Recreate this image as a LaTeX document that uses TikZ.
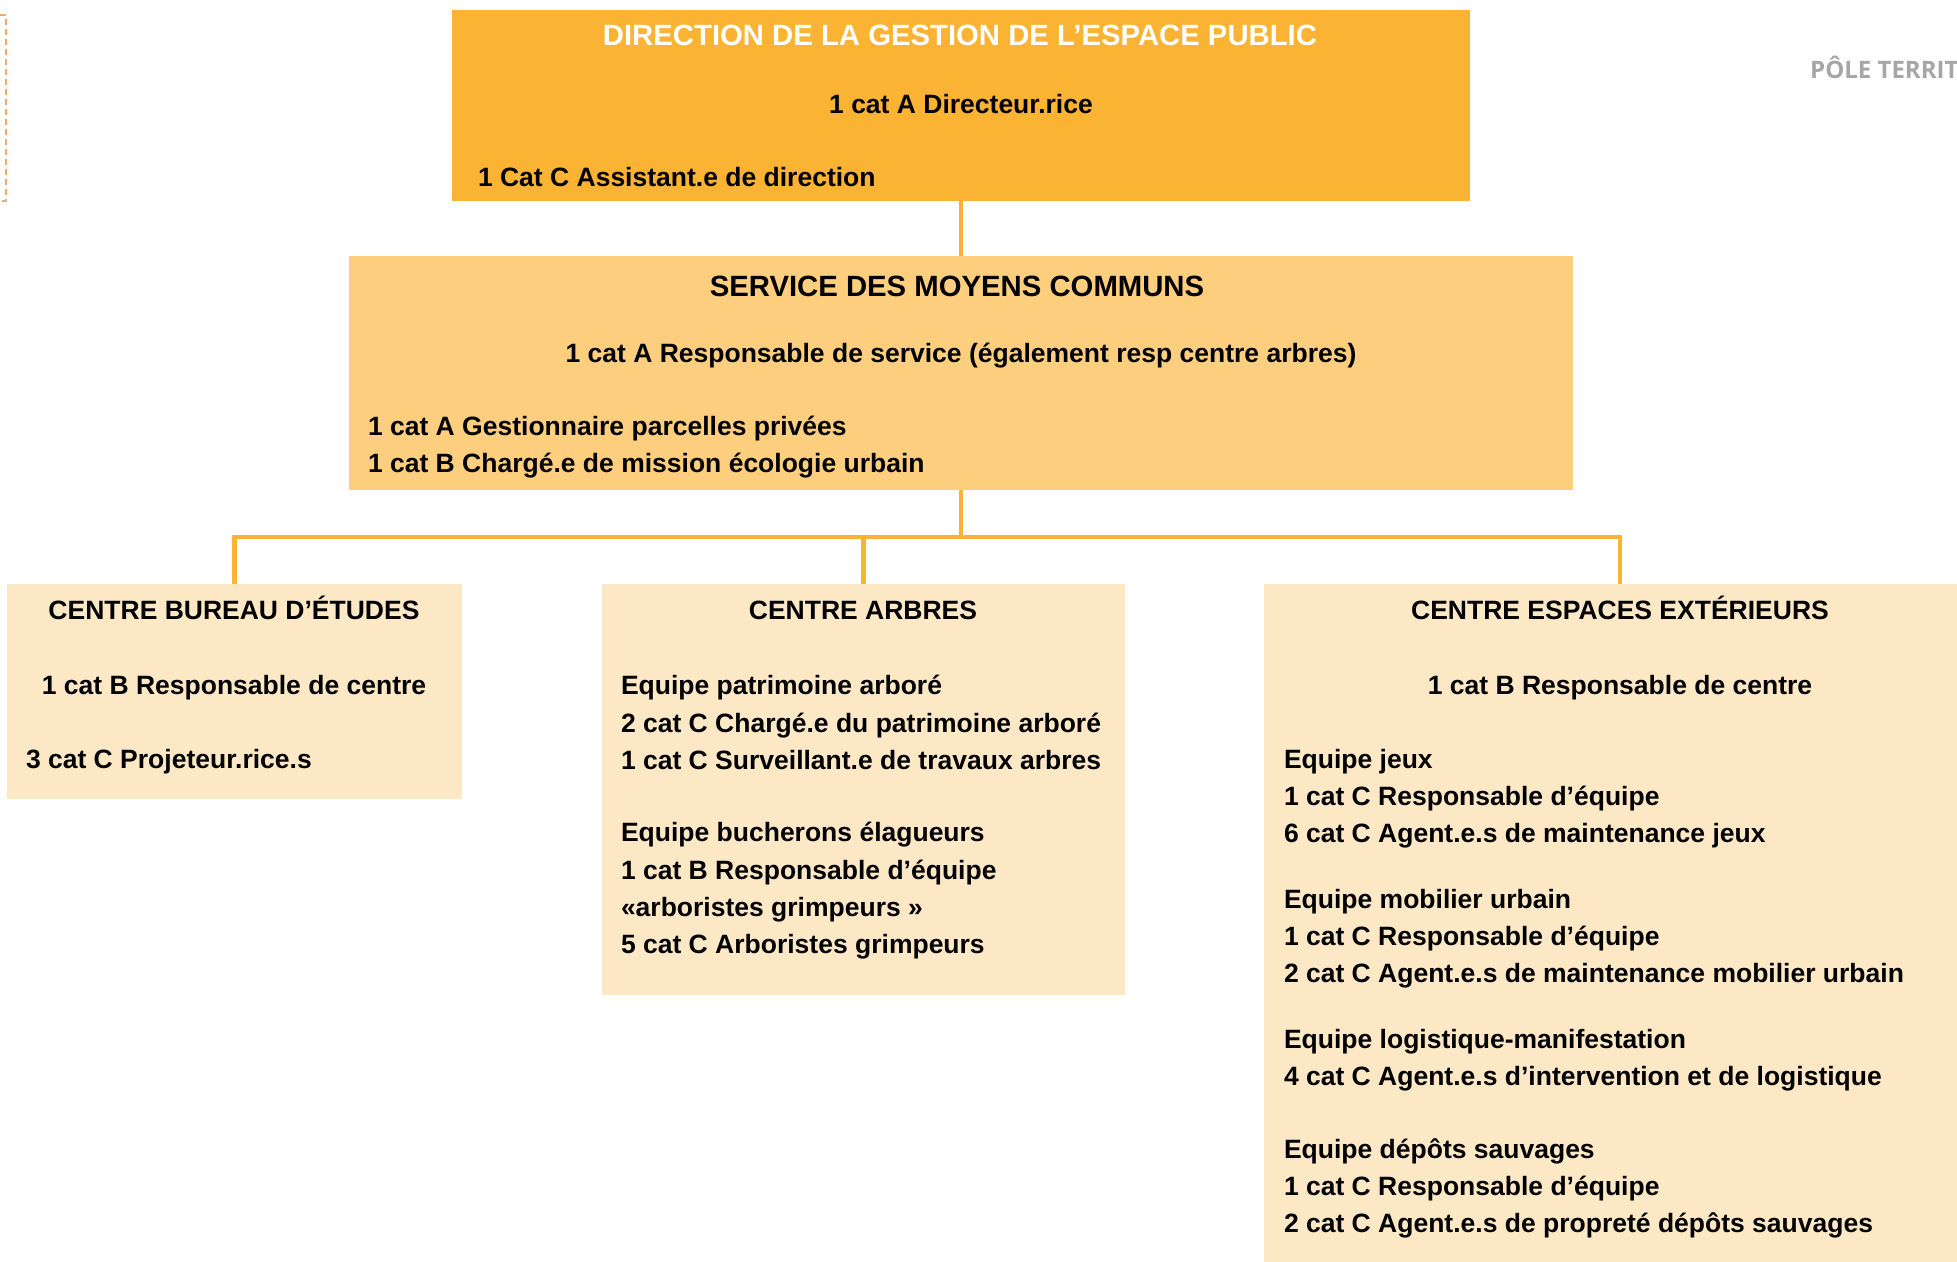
\documentclass[tikz,border=0pt]{standalone}
\usepackage{fontspec}
\setmainfont{Liberation Sans}
\newfontfamily\polefont{Open Sans}
\definecolor{cTop}{HTML}{FBB333}
\definecolor{cServ}{HTML}{FDCE7E}
\definecolor{cCentre}{HTML}{FDE8C6}
\definecolor{cLine}{HTML}{FBB333}
\definecolor{cDash}{HTML}{F5A96A}
\definecolor{cGray}{HTML}{A6A6A6}
\begin{document}
\begin{tikzpicture}[x=1pt,y=-1pt,
  box/.style={anchor=north west, inner sep=0pt, outer sep=0pt, draw=none},
  conn/.style={draw=cLine, line width=4.5pt},
  txt/.style={inner sep=0pt, outer sep=0pt, font=\fontsize{26.5}{37.4}\selectfont\bfseries},
  ttl/.style={inner sep=0pt, outer sep=0pt, font=\fontsize{29.3}{35}\selectfont\bfseries},
  tl/.style={txt, anchor=base west},
  tc/.style={txt, anchor=base}]
\useasboundingbox (0,0) rectangle (1957,1261);
% dashed edge at left
\draw[cDash, line width=1.6pt, dash pattern=on 6pt off 4pt] (0,15) -- (6,15) -- (6,201) -- (0,201);
% gray header
\node[inner sep=0pt, anchor=base west, text=cGray, font=\polefont\fontsize{24}{28}\selectfont\bfseries] (pole) at (1810,78) {PÔLE TERRIT};
% boxes
\node[box, fill=cTop, minimum width=1018, minimum height=191] (top) at (452,10) {};
\node[box, fill=cServ, minimum width=1224, minimum height=234] (serv) at (349,256) {};
\node[box, fill=cCentre, minimum width=455, minimum height=215] (left) at (7,584) {};
\node[box, fill=cCentre, minimum width=523, minimum height=411] (mid) at (602,584) {};
\node[box, fill=cCentre, minimum width=712, minimum height=700] (right) at (1264,584) {};
% connectors
\coordinate (bus) at (961,537);
\draw[conn] (serv.north |- top.south) -- (serv.north);
\draw[conn] (serv.south) -- (bus);
\draw[conn] (left.north) |- (bus) -| (right.north);
\draw[conn] (mid.north) -- (mid.north |- bus);
% top texts
\node[ttl, anchor=base, text=white] (t1) at (960,45.5) {DIRECTION DE LA GESTION DE L’ESPACE PUBLIC};
\node[tc] (t2) at (961,113.5) {1 cat A Directeur.rice};
\node[tl] (t3) at (478,186.5) {1 Cat C Assistant.e de direction};
% service texts
\node[ttl, anchor=base] (s1) at (957,296.5) {SERVICE DES MOYENS COMMUNS};
\node[tc] (s2) at (961,362.5) {1 cat A Responsable de service (également resp centre arbres)};
\node[tl] (s3) at (368,435.5) {1 cat A Gestionnaire parcelles privées};
\node[tl] (s4) at (368,472.5) {1 cat B Chargé.e de mission écologie urbain};
% left texts
\node[tc] (l1) at (234,619.5) {CENTRE BUREAU D’ÉTUDES};
\node[tc] (l2) at (234,694.5) {1 cat B Responsable de centre};
\node[tl] (l3) at (26,768.5) {3 cat C Projeteur.rice.s};
% middle texts
\node[tc] (m0) at (863,619.5) {CENTRE ARBRES};
\node[tl] (m1) at (621,694.5) {Equipe patrimoine arboré};
\node[tl] (m2) at (621,732) {2 cat C Chargé.e du patrimoine arboré};
\node[tl] (m3) at (621,769.5) {1 cat C Surveillant.e de travaux arbres};
\node[tl] (m4) at (621,841.5) {Equipe bucherons élagueurs};
\node[tl] (m5) at (621,879) {1 cat B Responsable d’équipe};
\node[tl] (m6) at (621,916) {«arboristes grimpeurs »};
\node[tl] (m7) at (621,953.5) {5 cat C Arboristes grimpeurs};
% right texts
\node[tc] (r0) at (1620,619.5) {CENTRE ESPACES EXTÉRIEURS};
\node[tc] (r1) at (1620,694.5) {1 cat B Responsable de centre};
\node[tl] (r2) at (1284,768.5) {Equipe jeux};
\node[tl] (r3) at (1284,805.5) {1 cat C Responsable d’équipe};
\node[tl] (r4) at (1284,842) {6 cat C Agent.e.s de maintenance jeux};
\node[tl] (r5) at (1284,908.5) {Equipe mobilier urbain};
\node[tl] (r6) at (1284,945.5) {1 cat C Responsable d’équipe};
\node[tl] (r7) at (1284,982) {2 cat C Agent.e.s de maintenance mobilier urbain};
\node[tl] (r8) at (1284,1048) {Equipe logistique-manifestation};
\node[tl] (r9) at (1284,1085.5) {4 cat C Agent.e.s d’intervention et de logistique};
\node[tl] (r10) at (1284,1158.5) {Equipe dépôts sauvages};
\node[tl] (r11) at (1284,1195.5) {1 cat C Responsable d’équipe};
\node[tl] (r12) at (1284,1232) {2 cat C Agent.e.s de propreté dépôts sauvages};
\end{tikzpicture}
\end{document}
